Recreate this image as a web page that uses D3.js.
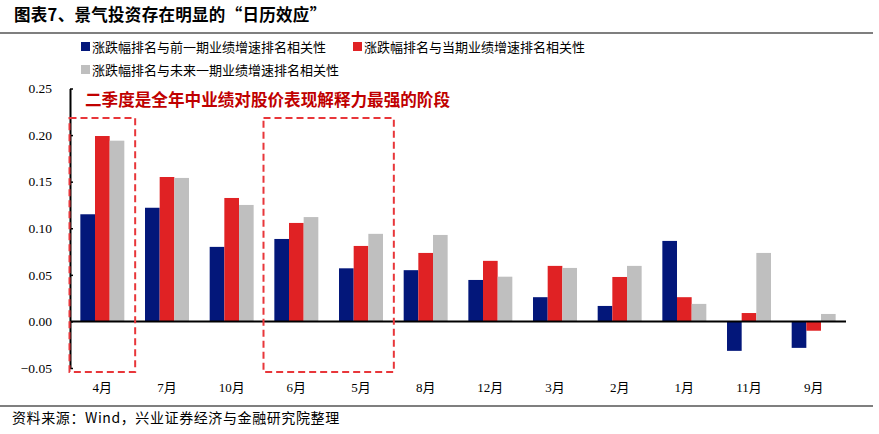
<!DOCTYPE html>
<html><head><meta charset="utf-8">
<script src="https://cdn.jsdelivr.net/npm/d3@7"></script>
<style>body{margin:0;background:#fff;} svg{display:block;}</style>
</head><body>
<svg id="c" width="879" height="434"></svg>
<script>
const categories = ["4月","7月","10月","6月","5月","8月","12月","3月","2月","1月","11月","9月"];
const seriesNames = ["涨跌幅排名与前一期业绩增速排名相关性","涨跌幅排名与当期业绩增速排名相关性","涨跌幅排名与未来一期业绩增速排名相关性"];
const prevPeriod = [0.115,0.122,0.080,0.0885,0.057,0.055,0.0445,0.026,0.0166,0.0864,-0.0316,-0.0284];
const currPeriod = [0.199,0.155,0.1325,0.1057,0.081,0.0735,0.065,0.0596,0.0477,0.026,0.009,-0.010];
const nextPeriod = [0.194,0.154,0.125,0.112,0.094,0.0928,0.048,0.0574,0.0596,0.0188,0.0735,0.008];
const yTicks = [-0.05,0,0.05,0.10,0.15,0.20,0.25];
const colors = ["#03177A","#E02224","#BFBFBF"];
const titleText = "图表7、景气投资存在明显的“日历效应”";
const annotation = "二季度是全年中业绩对股价表现解释力最强的阶段";
const sourceText = "资料来源：Wind，兴业证券经济与金融研究院整理";
const highlightGroups = [["4月"],["6月","5月"]];

const svg = d3.select("#c");
const series = [prevPeriod, currPeriod, nextPeriod];

const x = d3.scaleBand().domain(categories).range([70, 846]).paddingInner(0.32).paddingOuter(0.16);
const xs = d3.scaleBand().domain([0,1,2]).range([0, x.bandwidth()]);
const y = d3.scaleLinear().domain([-0.05, 0.25]).range([368, 88.5]);

// title
svg.append("text").attr("x", 14).attr("y", 21).attr("font-family","'Noto Sans CJK SC',sans-serif")
  .attr("font-weight","bold").attr("font-size",16.5).attr("letter-spacing",0.3).attr("fill","#000").text(titleText);
svg.append("line").attr("x1",0).attr("x2",873).attr("y1",33).attr("y2",33).attr("stroke","#000").attr("stroke-width",1.2);
svg.append("line").attr("x1",0).attr("x2",873).attr("y1",406).attr("y2",406).attr("stroke","#000").attr("stroke-width",1.2);
svg.append("text").attr("x", 12).attr("y", 423).attr("font-family","'Noto Sans CJK SC',sans-serif")
  .attr("font-size",14).attr("letter-spacing",0.6).attr("fill","#000").text(sourceText);

// legend
const legendPos = [[81,47],[353,47],[81,70]];
seriesNames.forEach((n,i)=>{
  const g = svg.append("g").attr("transform",`translate(${legendPos[i][0]},${legendPos[i][1]})`);
  g.append("rect").attr("x",0).attr("y",-5).attr("width",9).attr("height",9).attr("fill",colors[i]);
  g.append("text").attr("x",11).attr("y",5).attr("font-family","'Noto Sans CJK SC',sans-serif")
    .attr("font-size",13).attr("fill","#000").text(n);
});

// bars
series.forEach((vals,i)=>{
  svg.append("g").selectAll("rect").data(vals).join("rect")
    .attr("x",(d,j)=>x(categories[j]) + xs(i))
    .attr("width", xs.bandwidth())
    .attr("y", d=> y(Math.max(0,d)))
    .attr("height", d=> Math.abs(y(d)-y(0)))
    .attr("fill", colors[i]);
});

// zero line
svg.append("line").attr("x1",70).attr("x2",846).attr("y1",y(0)).attr("y2",y(0)).attr("stroke","#000").attr("stroke-width",2);

// y axis
const yAxis = d3.axisLeft(y).tickValues(yTicks).tickFormat(d3.format(".2f")).tickSizeInner(-3).tickSizeOuter(0).tickPadding(18);
const ya = svg.append("g").attr("transform","translate(70,0)").call(yAxis);
ya.select(".domain").attr("stroke","#000").attr("stroke-width",2);
ya.selectAll(".tick line").attr("stroke","#000").attr("stroke-width",1.5);
ya.selectAll("text").attr("font-family","'Liberation Serif',serif").attr("font-size",13.5).attr("fill","#000");

// x labels
svg.append("g").selectAll("text").data(categories).join("text")
  .attr("x", d=> x(d)+x.bandwidth()/2).attr("y", 392).attr("text-anchor","middle")
  .attr("font-family","'Liberation Serif','Noto Sans CJK SC',serif").attr("font-size",13).attr("fill","#000").text(d=>d);

// highlight boxes
highlightGroups.forEach(gr=>{
  const x0 = x(gr[0]) - x.step()*x.paddingInner()/2 - 0.5;
  const x1 = x(gr[gr.length-1]) + x.bandwidth() + x.step()*x.paddingInner()/2 + 0.5;
  svg.append("rect").attr("x", x0).attr("y", 118).attr("width", x1-x0).attr("height", 254)
    .attr("fill","none").attr("stroke","#E8363A").attr("stroke-width",2).attr("stroke-dasharray","7,4");
});

// annotation
svg.append("text").attr("x", 85).attr("y", 106).attr("font-family","'Noto Sans CJK SC',sans-serif")
  .attr("font-weight","bold").attr("font-size",16.6).attr("fill","#C00000").text(annotation);
</script>
</body></html>
